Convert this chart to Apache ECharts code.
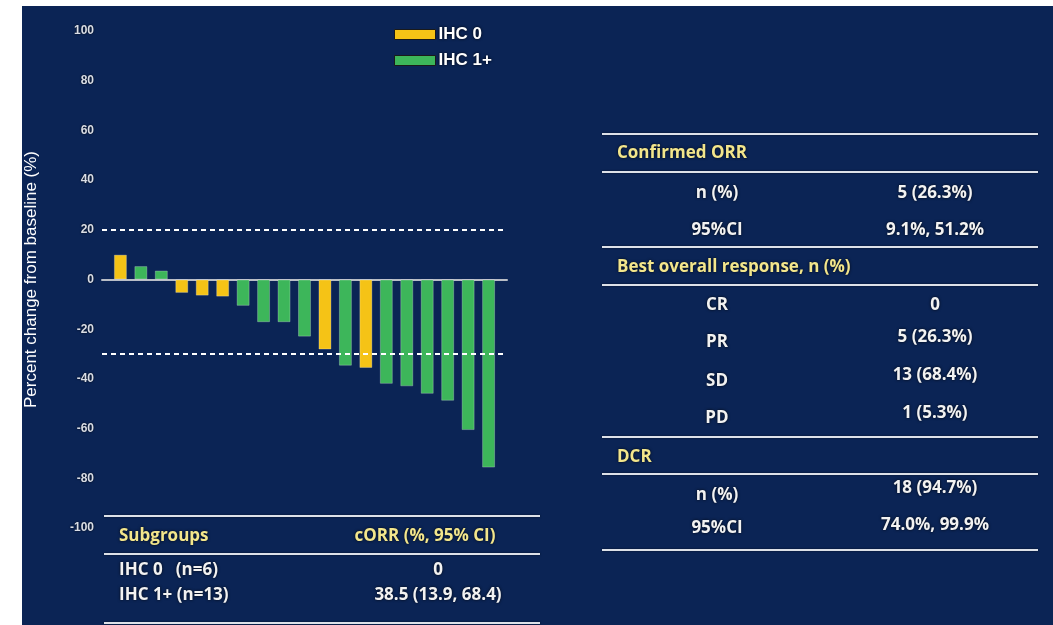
<!DOCTYPE html>
<html>
<head>
<meta charset="utf-8">
<script src="https://cdn.jsdelivr.net/npm/echarts@6/dist/echarts.min.js"></script>
<style>
  html, body { margin: 0; background: #fff; }
  #box { position: absolute; left: 22px; top: 6px; width: 1031px; height: 619px; background: #0b2455; }
</style>
</head>
<body>
<div id="box"></div>
<script>
  // waterfall data: one bar per patient, sorted
  const groupNames = ['IHC 0', 'IHC 1+'];
  const groupColors = ['#f5c316', '#3db65a'];
  const patientGroup = [0, 1, 1, 0, 0, 0, 1, 1, 1, 1, 0, 1, 0, 1, 1, 1, 1, 1, 1];
  const pctChange = [10, 5.4, 3.6, -5.4, -6.5, -6.9, -10.6, -17.2, -17.2, -23, -28.2, -34.7, -35.6, -42, -43, -46, -48.8, -60.6, -75.7];
  const refLines = [20, -30];

  // tables
  const subgroupHeader = ['Subgroups', 'cORR (%, 95% CI)'];
  const subgroupRows = [['IHC 0   (n=6)', '0'], ['IHC 1+ (n=13)', '38.5 (13.9, 68.4)']];
  const sectionTitles = ['Confirmed ORR', 'Best overall response, n (%)', 'DCR'];
  const orrRows = [['n (%)', '5 (26.3%)'], ['95%CI', '9.1%, 51.2%']];
  const borRows = [['CR', '0'], ['PR', '5 (26.3%)'], ['SD', '13 (68.4%)'], ['PD', '1 (5.3%)']];
  const dcrRows = [['n (%)', '18 (94.7%)'], ['95%CI', '74.0%, 99.9%']];

  const headColor = '#f3e68c';
  const cellColor = '#f2f2f2';
  const ruleColor = '#dde1e8';
  const tableFont = 'Open Sans';

  function txt(text, x, y, align, color, size) {
    return {
      type: 'text',
      silent: true,
      style: {
        text, x, y,
        textAlign: align,
        textVerticalAlign: 'middle',
        fill: color,
        fontFamily: tableFont,
        fontWeight: 'bold',
        fontSize: size || 17,
        textShadowColor: 'rgba(0,0,0,0.85)',
        textShadowBlur: 3,
      },
    };
  }
  function rule(x1, x2, y) {
    return {
      type: 'line',
      silent: true,
      shape: { x1, y1: y, x2, y2: y },
      style: { stroke: ruleColor, lineWidth: 2, shadowColor: 'rgba(0,0,0,0.6)', shadowBlur: 2 },
    };
  }

  const graphics = [];
  // left subgroup table
  [510, 548, 617].forEach((y) => graphics.push(rule(82, 518, y)));
  graphics.push(txt(subgroupHeader[0], 97, 530, 'left', headColor));
  graphics.push(txt(subgroupHeader[1], 403, 530, 'center', headColor));
  const subY = [564, 589];
  subgroupRows.forEach((r, i) => {
    graphics.push(txt(r[0], 97, subY[i], 'left', cellColor));
    graphics.push(txt(r[1], 416, subY[i], 'center', cellColor));
  });

  // right response table
  [128, 166, 241, 279, 431, 468, 544].forEach((y) => graphics.push(rule(580, 1016, y)));
  const titleY = [147, 261, 451];
  const labelY = [[187, 224], [299, 336, 375, 412], [489, 522]];
  const valueY = [[187, 224], [299, 331, 369, 407], [482, 519]];
  [orrRows, borRows, dcrRows].forEach((rows, s) => {
    graphics.push(txt(sectionTitles[s], 595, titleY[s], 'left', headColor));
    rows.forEach((r, i) => {
      graphics.push(txt(r[0], 695, labelY[s][i], 'center', cellColor));
      graphics.push(txt(r[1], 913, valueY[s][i], 'center', cellColor));
    });
  });

  const series = groupNames.map((name, g) => ({
    name,
    type: 'bar',
    barWidth: 13,
    barGap: '-100%',
    data: pctChange.map((v, i) => [i, v]).filter((d, i) => patientGroup[i] === g),
    itemStyle: { color: groupColors[g], borderColor: 'rgba(255,255,255,0.25)', borderWidth: 1 },
    markLine: g === 0 ? {
      silent: true,
      symbol: 'none',
      label: { show: false },
      lineStyle: { color: '#ffffff', type: [5, 4], width: 2 },
      data: refLines.map((v) => ({ yAxis: v })),
    } : undefined,
  }));

  const chart = echarts.init(document.getElementById('box'));
  chart.setOption({
    animation: false,
    backgroundColor: '#0b2455',
    grid: { left: 78, top: 25, width: 407, height: 497 },
    legend: {
      orient: 'vertical',
      left: 367,
      top: 15,
      itemWidth: 41,
      itemHeight: 10,
      itemGap: 9,
      icon: 'rect',
      itemStyle: { borderColor: '#1a1a1a', borderWidth: 1 },
      textStyle: {
        color: '#ffffff',
        fontFamily: 'Liberation Sans',
        fontWeight: 'bold',
        fontSize: 17,
        lineHeight: 16,
        padding: [0, 0, 0, -2],
        textShadowColor: 'rgba(0,0,0,0.9)',
        textShadowBlur: 3,
      },
      data: groupNames,
    },
    xAxis: {
      type: 'value',
      min: -0.9,
      max: 18.9,
      axisLine: { onZero: true, lineStyle: { color: '#b9bdc6', width: 2 } },
      axisTick: { show: false },
      axisLabel: { show: false },
      splitLine: { show: false },
    },
    yAxis: {
      type: 'value',
      min: -100,
      max: 100,
      interval: 20,
      name: 'Percent change from baseline (%)',
      nameLocation: 'middle',
      nameRotate: 90,
      nameGap: 62,
      nameTextStyle: { color: '#ffffff', fontFamily: 'Liberation Sans', fontSize: 17 },
      axisLine: { show: false },
      axisTick: { show: false },
      splitLine: { show: false },
      axisLabel: {
        margin: 8,
        color: '#d9dde6',
        fontFamily: 'Liberation Sans',
        fontWeight: 'bold',
        fontSize: 12,
        textShadowColor: 'rgba(0,0,0,0.9)',
        textShadowBlur: 2,
      },
    },
    series,
    graphic: graphics,
  });
</script>
</body>
</html>
